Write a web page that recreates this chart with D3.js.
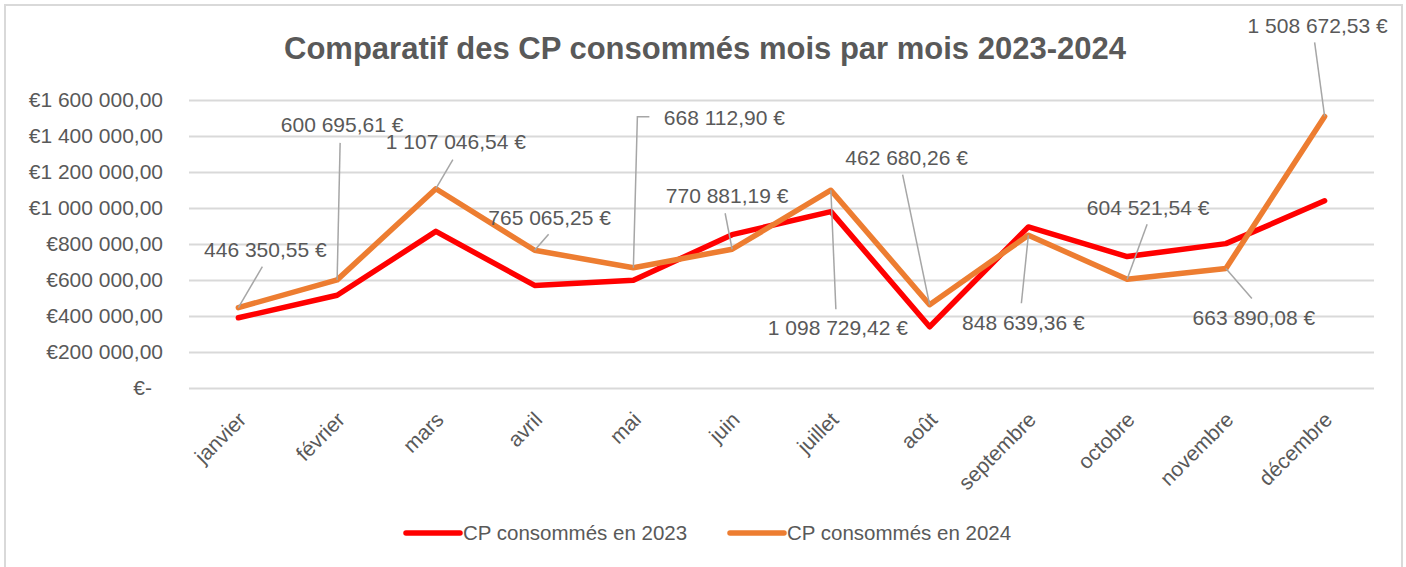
<!DOCTYPE html>
<html>
<head>
<meta charset="utf-8">
<script src="https://cdn.jsdelivr.net/npm/d3@7/dist/d3.min.js"></script>
<style>
  html, body { margin: 0; padding: 0; background: #fff; }
  svg { display: block; font-family: "Liberation Sans", Arial, sans-serif; }
</style>
</head>
<body>
<svg id="chart" width="1406" height="567"></svg>
<script>
// ---- data ----
const months = ["janvier", "février", "mars", "avril", "mai", "juin", "juillet", "août", "septembre", "octobre", "novembre", "décembre"];
const cp2023 = [390000, 515000, 870000, 570000, 598000, 852000, 980000, 340000, 895000, 730000, 802000, 1040000];
const cp2024 = [446350.55, 600695.61, 1107046.54, 765065.25, 668112.90, 770881.19, 1098729.42, 462680.26, 848639.36, 604521.54, 663890.08, 1508672.53];
const yTicks = [0, 200000, 400000, 600000, 800000, 1000000, 1200000, 1400000, 1600000];
const seriesNames = ["CP consommés en 2023", "CP consommés en 2024"];
const titleText = "Comparatif des CP consommés mois par mois 2023-2024";

// ---- layout (label placement for 2024 data labels, relative to the point) ----
const labelLayout = [
  { dx: 27, dy: -58, leader: [[0, 0], [24, -41]] },
  { dx: 5, dy: -155, leader: [[0, 0], [3, -137]] },
  { dx: 20, dy: -47, leader: [[0, 0], [17, -29]] },
  { dx: 15, dy: -33, leader: [[0, 0], [14, -16]] },
  { dx: 91, dy: -150, leader: [[0, 0], [4, -151], [16, -151]] },
  { dx: -5, dy: -54, leader: [[0, 0], [-7, -36]] },
  { dx: 7, dy: 137, leader: [[0, 0], [5, 119]] },
  { dx: -23, dy: -147, leader: [[0, 0], [-27, -130]] },
  { dx: -5, dy: 87, leader: [[0, 0], [-7, 68]] },
  { dx: 21, dy: -72, leader: [[0, 0], [20, -55]] },
  { dx: 28, dy: 49, leader: [[0, 0], [26, 30]] },
  { dx: -7, dy: -91, leader: [[0, 0], [-10, -74]] }
];

const W = 1406, H = 567;
const plot = { left: 189, right: 1374, top: 100, bottom: 388 };
const textColor = "#595959";
const gridColor = "#d9d9d9";
const colors = ["#ff0000", "#ed7d31"];

const fr = d3.formatLocale({ decimal: ",", thousands: "\u00a0", grouping: [3], currency: ["€", ""] });
const fmtAxis = v => v === 0 ? "€-" : "€" + fr.format(",.2f")(v);
const fmtLabel = v => fr.format(",.2f")(v) + "\u00a0€";

const svg = d3.select("#chart");

// border
svg.append("rect")
  .attr("x", 5).attr("y", 5).attr("width", W - 9).attr("height", H + 10)
  .attr("fill", "#fff").attr("stroke", gridColor).attr("stroke-width", 2);

// title
svg.append("text")
  .attr("x", 705).attr("y", 59)
  .attr("text-anchor", "middle")
  .attr("font-size", 31).attr("font-weight", "bold")
  .attr("fill", textColor)
  .text(titleText);

const x = d3.scaleBand().domain(months).range([plot.left, plot.right]);
const cx = m => x(m) + x.bandwidth() / 2;
const y = d3.scaleLinear().domain([0, 1600000]).range([plot.bottom, plot.top]);

// y axis with gridlines
const yAxis = d3.axisLeft(y)
  .tickValues(yTicks)
  .tickSize(-(plot.right - plot.left))
  .tickPadding(26)
  .tickFormat(fmtAxis);
const gy = svg.append("g").attr("transform", `translate(${plot.left},0)`).call(yAxis);
gy.select(".domain").remove();
gy.selectAll(".tick line").attr("stroke", gridColor).attr("stroke-width", 2);
gy.selectAll(".tick text")
  .attr("fill", textColor)
  .attr("font-size", 21)
  .attr("font-family", "Liberation Sans, Arial, sans-serif")
  .attr("dx", d => d === 0 ? -11 : 0);

// x axis labels
const gx = svg.append("g");
gx.selectAll("text").data(months).join("text")
  .attr("transform", d => `translate(${cx(d) + 9},${plot.bottom + 33}) rotate(-45)`)
  .attr("text-anchor", "end")
  .attr("font-size", 21)
  .attr("fill", textColor)
  .text(d => d);

// lines
const line = d3.line().x((d, i) => cx(months[i])).y(d => y(d));
[cp2023, cp2024].forEach((s, k) => {
  svg.append("path")
    .datum(s)
    .attr("d", line)
    .attr("fill", "none")
    .attr("stroke", colors[k])
    .attr("stroke-width", 5.5)
    .attr("stroke-linejoin", "round")
    .attr("stroke-linecap", "round");
});

// leaders + labels for 2024
const gl = svg.append("g");
cp2024.forEach((v, i) => {
  const px = cx(months[i]), py = y(v);
  const L = labelLayout[i];
  gl.append("polyline")
    .attr("points", L.leader.map(p => [px + p[0], py + p[1]].join(",")).join(" "))
    .attr("fill", "none")
    .attr("stroke", "#a6a6a6")
    .attr("stroke-width", 1.5);
  gl.append("text")
    .attr("x", px + L.dx).attr("y", py + L.dy)
    .attr("dy", "0.35em")
    .attr("text-anchor", "middle")
    .attr("font-size", 21)
    .attr("fill", textColor)
    .text(fmtLabel(v));
});

// legend
const legend = svg.append("g");
const legendItems = [{ x: 406, name: seriesNames[0], c: colors[0] }, { x: 730, name: seriesNames[1], c: colors[1] }];
legendItems.forEach(it => {
  legend.append("line")
    .attr("x1", it.x).attr("x2", it.x + 54)
    .attr("y1", 533).attr("y2", 533)
    .attr("stroke", it.c).attr("stroke-width", 5.5).attr("stroke-linecap", "round");
  legend.append("text")
    .attr("x", it.x + 57).attr("y", 533).attr("dy", "0.35em")
    .attr("font-size", 20.5)
    .attr("fill", textColor)
    .text(it.name);
});
</script>
</body>
</html>
